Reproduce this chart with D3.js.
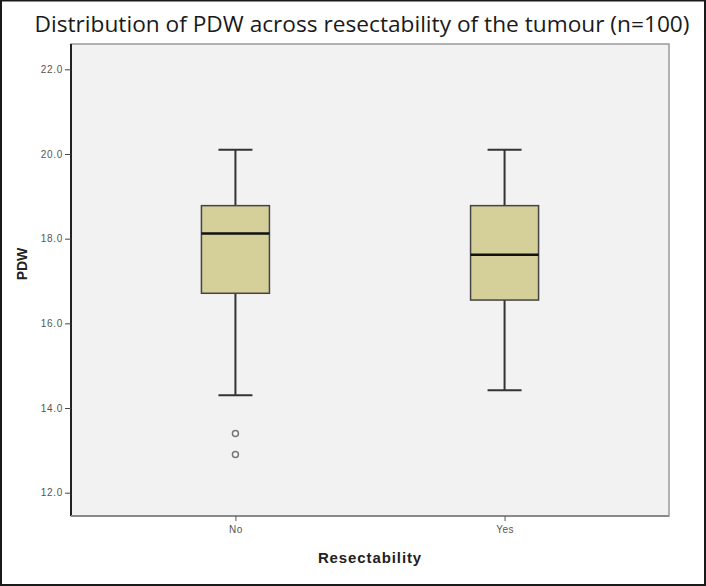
<!DOCTYPE html>
<html>
<head>
<meta charset="utf-8">
<script src="https://cdn.jsdelivr.net/npm/d3@7"></script>
<style>
  html, body { margin: 0; padding: 0; background: #fff; }
  svg { display: block; }
</style>
</head>
<body>
<svg id="chart" width="706" height="586"></svg>
<script>
// ---- data ----
const categories = ["No", "Yes"];
const whiskerHigh = [20.1, 20.1];
const q3 = [18.78, 18.78];
const median = [18.12, 17.62];
const q1 = [16.71, 16.55];
const whiskerLow = [14.3, 14.42];
const outliersNo = [13.4, 12.9];
const outliersYes = [];
const yTicks = [12, 14, 16, 18, 20, 22];
const title = "Distribution of PDW across resectability of the tumour (n=100)";
const xTitle = "Resectability";
const yTitle = "PDW";

const outliers = [outliersNo, outliersYes];

// ---- layout ----
const W = 706, H = 586;
const plot = { left: 71, right: 669, top: 44, bottom: 516 };

const svg = d3.select("#chart");

// outer frame
svg.append("rect").attr("x", 1).attr("y", 0.5).attr("width", W - 2).attr("height", H - 1.5)
  .attr("fill", "#fff").attr("stroke", "#1a1a1a").attr("stroke-width", 2);

// title
svg.append("text").attr("x", 362).attr("y", 32).attr("text-anchor", "middle")
  .attr("font-family", "Open Sans, sans-serif").attr("font-size", 22).attr("fill", "#1a1a1a")
  .attr("textLength", 655).attr("lengthAdjust", "spacingAndGlyphs")
  .text(title);

// scales
const y = d3.scaleLinear().domain([12, 22]).range([492.7, 69.3]);
const x = d3.scalePoint().domain(categories).range([plot.left, plot.right]).padding(0.611);
const boxW = 68, capW = 34;

// plot background
svg.append("rect").attr("x", plot.left).attr("y", plot.top)
  .attr("width", plot.right - plot.left).attr("height", plot.bottom - plot.top)
  .attr("fill", "#f2f2f2").attr("stroke", "#9a9a9a").attr("stroke-width", 1.5);

// boxes
const data = categories.map((c, i) => ({
  c, hi: whiskerHigh[i], q3: q3[i], med: median[i], q1: q1[i], lo: whiskerLow[i], out: outliers[i]
}));

const g = svg.append("g");
const bx = g.selectAll("g.box").data(data).join("g").attr("class", "box");

bx.append("line").attr("x1", d => x(d.c)).attr("x2", d => x(d.c))
  .attr("y1", d => y(d.hi)).attr("y2", d => y(d.q3))
  .attr("stroke", "#333").attr("stroke-width", 2);
bx.append("line").attr("x1", d => x(d.c)).attr("x2", d => x(d.c))
  .attr("y1", d => y(d.q1)).attr("y2", d => y(d.lo))
  .attr("stroke", "#333").attr("stroke-width", 2);
bx.append("line").attr("x1", d => x(d.c) - capW / 2).attr("x2", d => x(d.c) + capW / 2)
  .attr("y1", d => y(d.hi)).attr("y2", d => y(d.hi))
  .attr("stroke", "#333").attr("stroke-width", 2);
bx.append("line").attr("x1", d => x(d.c) - capW / 2).attr("x2", d => x(d.c) + capW / 2)
  .attr("y1", d => y(d.lo)).attr("y2", d => y(d.lo))
  .attr("stroke", "#333").attr("stroke-width", 2);
bx.append("rect").attr("x", d => x(d.c) - boxW / 2).attr("width", boxW)
  .attr("y", d => y(d.q3)).attr("height", d => y(d.q1) - y(d.q3))
  .attr("fill", "#d5cf99").attr("stroke", "#444").attr("stroke-width", 1.5);
bx.append("line").attr("x1", d => x(d.c) - boxW / 2).attr("x2", d => x(d.c) + boxW / 2)
  .attr("y1", d => y(d.med)).attr("y2", d => y(d.med))
  .attr("stroke", "#111").attr("stroke-width", 2.5);
bx.selectAll("circle").data(d => d.out.map(v => ({ c: d.c, v }))).join("circle")
  .attr("cx", d => x(d.c)).attr("cy", d => y(d.v)).attr("r", 3)
  .attr("fill", "#f7f7f7").attr("stroke", "#777").attr("stroke-width", 1.5);

// y axis
const yAxis = svg.append("g").attr("transform", `translate(${plot.left},0)`)
  .call(d3.axisLeft(y).tickValues(yTicks).tickFormat(d3.format(".1f")).tickSize(6).tickPadding(2));
yAxis.select(".domain").attr("d", `M0,${plot.top}V${plot.bottom}`).attr("stroke", "#222").attr("stroke-width", 2);
yAxis.selectAll(".tick line").attr("stroke", "#444");
yAxis.selectAll(".tick text").attr("font-family", "Liberation Sans, Arial, sans-serif")
  .attr("font-size", 10).attr("letter-spacing", 0.7).attr("fill", "#555");

// x axis
const xAxis = svg.append("g").attr("transform", `translate(0,${plot.bottom})`)
  .call(d3.axisBottom(x).tickSize(5).tickPadding(5));
xAxis.select(".domain").attr("d", `M${plot.left},0H${plot.right}`).attr("stroke", "#8a8a8a").attr("stroke-width", 2);
xAxis.selectAll(".tick line").attr("stroke", "#555");
xAxis.selectAll(".tick text").attr("font-family", "Liberation Sans, Arial, sans-serif")
  .attr("font-size", 10).attr("letter-spacing", 0.5).attr("fill", "#555");

// axis titles
svg.append("text").attr("x", 370).attr("y", 563).attr("text-anchor", "middle")
  .attr("font-family", "Liberation Sans, Arial, sans-serif").attr("font-weight", "bold")
  .attr("font-size", 15).attr("letter-spacing", 0.9).attr("fill", "#222").text(xTitle);
svg.append("text").attr("transform", "translate(27,264) rotate(-90)").attr("text-anchor", "middle")
  .attr("font-family", "Liberation Sans, Arial, sans-serif").attr("font-weight", "bold")
  .attr("font-size", 14).attr("fill", "#222").text(yTitle);
</script>
</body>
</html>
